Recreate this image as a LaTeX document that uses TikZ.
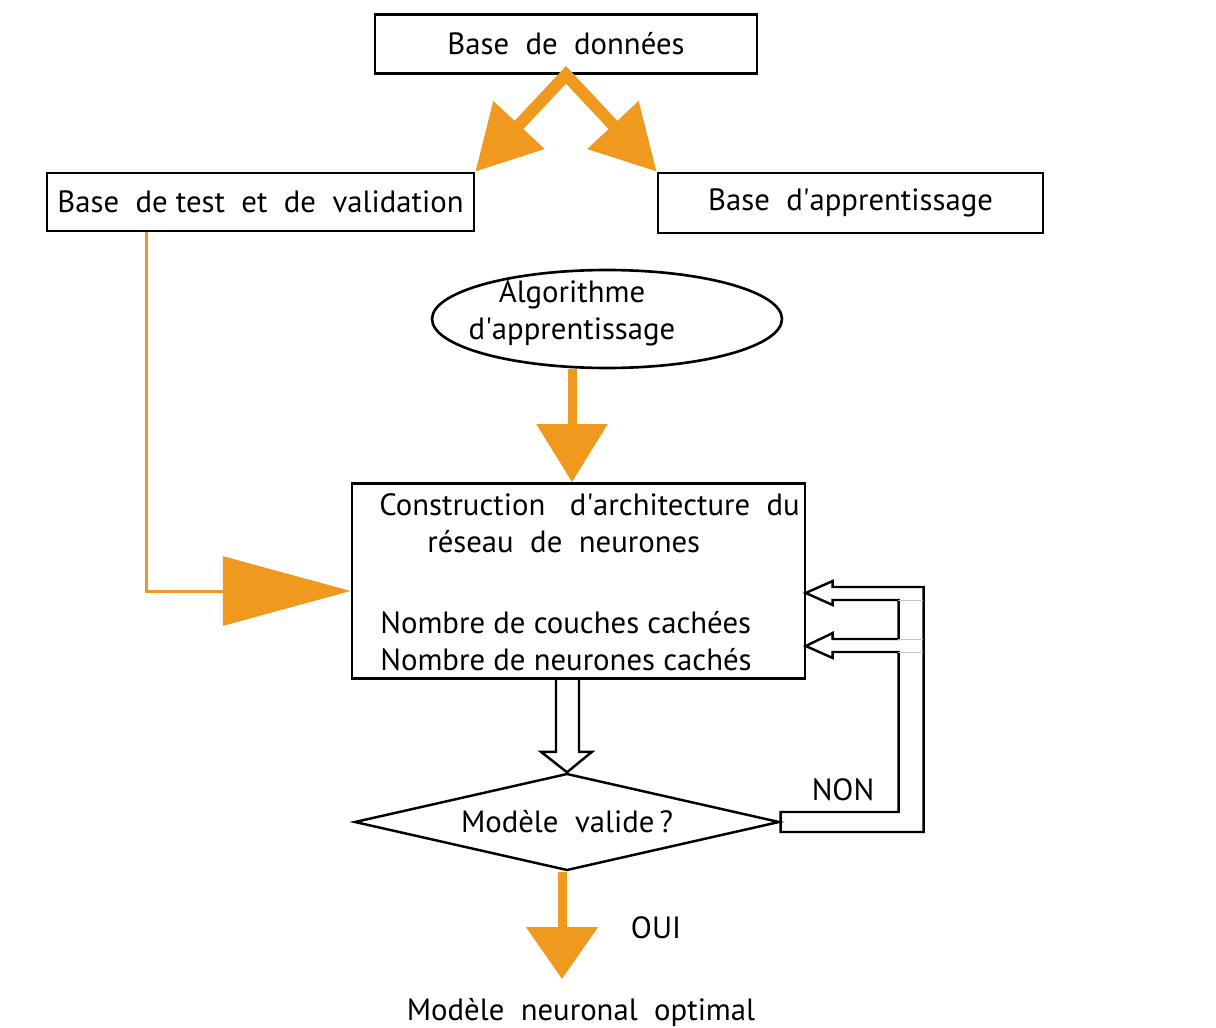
\documentclass[tikz,border=0pt]{standalone}
\usepackage{fontspec}
\setmainfont{PT Sans}
\usetikzlibrary{shapes.geometric,arrows.meta,calc}
\definecolor{flow}{HTML}{EF9A1E}
% straight apostrophe and a wide word gap
\newcommand\qs{\textquotesingle}
\newcommand\ws{\ \ }

\begin{document}
\begin{tikzpicture}[x=0.02cm,y=-0.02cm,
  font=\fontsize{17.5}{21}\selectfont,
  box/.style={draw,line width=1.5pt,rectangle,inner sep=0pt},
  txt/.style={inner sep=0pt},
  bigflow/.style={draw=flow,line width=0.24cm,line join=miter},
  midflow/.style={draw=flow,line width=0.18cm},
  thinflow/.style={draw=flow,line width=0.06cm},
  hollow/.style={draw,line width=1.4pt,line join=miter},
  seam/.style={draw=gray!45,line width=0.4pt}]
\useasboundingbox[fill=white] (0,0) rectangle (1216,1027);

% data sets
\node[box,minimum width=7.64cm,minimum height=1.18cm] (db) at (566,44) {Base\ws de\ws données};
\node[box,minimum width=8.54cm,minimum height=1.16cm] (test) at (260.5,202) {Base\ws de test\ws et\ws de\ws validation};
\node[box,minimum width=7.7cm,minimum height=1.2cm] (appr) at (850.5,203) {Base\ws d\qs apprentissage};

% learning algorithm
\node[draw,ellipse,line width=1.5pt,minimum width=7.0cm,minimum height=1.96cm,inner sep=0pt] (algo) at (607,319) {};
\node[txt,align=center] (algotxt) at (572,313) {Algorithme\\d\qs apprentissage};

% network architecture
\node[box,minimum width=9.06cm,minimum height=3.9cm] (big) at (578.5,581) {};
\node[txt,anchor=base west] (b1) at (379,515) {Construction\ws\ d\qs architecture\ws du};
\node[txt,anchor=base west] (b2) at (427,552) {réseau\ws de\ws neurones};
\node[txt,anchor=base west] (b3) at (380,633) {Nombre de couches cachées};
\node[txt,anchor=base west] (b4) at (380,670) {Nombre de neurones cachés};

% validation test
\node[draw,diamond,line width=1.4pt,minimum width=8.5cm,minimum height=1.94cm,inner sep=0pt,aspect=4.4] (dia) at (567,822) {Modèle\ws valide\,?};
\node[txt] (non) at (843,790) {NON};
\node[txt] (oui) at (656,928) {OUI};
\node[txt,anchor=base] (opt) at (581,1020) {Modèle\ws neuronal\ws optimal};

% orange flows
\draw[bigflow,{Triangle[length=1.28cm,width=1.34cm]}-{Triangle[length=1.28cm,width=1.34cm]}]
  (test.north east) -- (db.south) -- (appr.north west);
\draw[midflow,-{Triangle[length=1.16cm,width=1.38cm]}]
  (algo.south -| algotxt) -- (big.north -| algotxt);
\draw[thinflow,-{Triangle[length=2.56cm,width=1.38cm]}]
  ($(test.south west)+(101,0)$) |- ($(big.west)+(0,10)$);
\coordinate (optin) at (562,979);
\draw[midflow,-{Triangle[length=1.04cm,width=1.4cm]}]
  (dia.south -| optin) -- (optin);

% hollow arrow from the architecture box to the test
\coordinate (dtop) at (big.south -| dia.north);
\draw[hollow] ($(dtop)+(-11,0)$) -- ++(0,72) -- ++(-15,0) -- (dia.north)
  -- ($(dtop)+(25,72)$) -- ++(-13,0) -- ($(dtop)+(12,0)$);

% hollow feedback arrows (NON)
\draw[hollow] ($(dia.east)+(0,-10)$)
  -- ++(118,0) -- ++(0,-160) -- ++(-66,0) -- ++(0,6) -- ++(-27,-12)
  -- ++(27,-13) -- ++(0,6) -- ++(66,0) -- ++(0,-39) -- ++(-66,0)
  -- ++(0,5) -- ++(-27,-12) -- ++(27,-12) -- ++(0,6) -- ++(91,0)
  -- ++(0,245) -- ++(-143,0) -- cycle;
\draw[seam] (898,600) -- (923,600);
\draw[seam] (898,639) -- (923,639);
\draw[seam] (898,652) -- (923,652);
\end{tikzpicture}
\end{document}
